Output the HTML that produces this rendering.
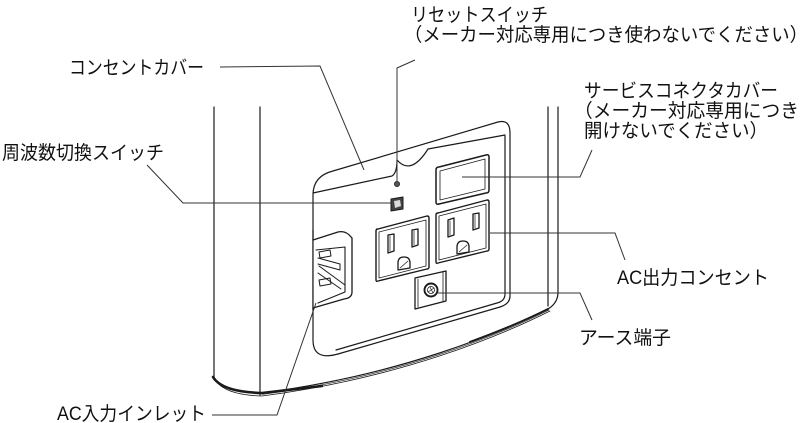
<!DOCTYPE html>
<html><head><meta charset="utf-8"><style>
html,body{margin:0;padding:0;background:#fff;}
svg{display:block;}
text{font-family:"Liberation Sans","Noto Sans CJK JP",sans-serif;font-size:19px;fill:#111;}
</style></head><body>
<svg width="800" height="423" viewBox="0 0 800 423" xmlns="http://www.w3.org/2000/svg">
<g fill="none" stroke="#1a1a1a" stroke-width="1.2" stroke-linejoin="round" stroke-linecap="round">
<!-- body vertical lines -->
<line x1="214" y1="107" x2="214" y2="378"/>
<line x1="260" y1="107" x2="260" y2="395"/>
<line x1="548" y1="107" x2="548" y2="306"/>
<path d="M558,107 L558,292 Q558,303 548,309"/>
<!-- bottom edge -->
<path d="M213,377 Q222,392 262,393 C400,375 500,333 548,309"/>
<path d="M216,381 Q226,395 262,396 C400,378 500,336 550,311" stroke-width="0.8"/>
<path d="M262,394.5 C400,376.5 500,334.5 549,310" stroke-width="0.6"/>
<path d="M213,377 Q222,392 262,393 L322,386" stroke-width="2.6"/>
<path d="M470,342 C500,331 530,318 548,309" stroke-width="2"/>
<!-- panel outer -->
<path d="M313,340 L313,195 Q313,176 333,171 L498,122 Q510,119 510,133 L510,296 Q510,304 500,307 L338,354 Q313,361 313,340 Z" fill="#fff"/>
<!-- panel inner right/bottom double line -->
<path d="M505,136 L505,294 Q505,301 497,303 L336,350"/>
<!-- cover lower edge with notch -->
<path d="M313,193 L392,176 Q397,173 397,160"/>
<path d="M397,160 Q411,176 428,149"/>
<path d="M428,149 L505,135"/>
<!-- reset hole -->
<circle cx="397" cy="184" r="2.6" fill="#555" stroke="#222" stroke-width="0.8"/>
<!-- frequency switch -->
<path d="M391,199 L403,197 L403,209 L391,211 Z" fill="#444" stroke-width="1"/>
<path d="M394,201 L400,200 L401,206 L395,208 Z" fill="#ddd" stroke="none"/>
<!-- service connector cover -->
<path d="M436,170 Q436,167 439,167 L486,155 Q489,154 489,157 L489,190 Q489,193 486,193 L439,204 Q436,205 436,202 Z" stroke-width="1.5"/>
<path d="M440,171 L485,159 L485,189 L440,200 Z" stroke-width="0.8"/>
<!-- left outlet -->
<path d="M376,231 Q376,229 378,229 L427,216 Q429,216 429,218 L429,267 Q429,269 427,269 L378,281 Q376,282 376,280 Z" stroke-width="1.4"/>
<path d="M379,232 L426,220 L426,266 L379,278 Z" stroke-width="0.8"/>
<!-- right outlet -->
<path d="M436,215 Q436,213 438,213 L487,200 Q489,200 489,202 L489,249 Q489,251 487,251 L438,263 Q436,264 436,262 Z" stroke-width="1.4"/>
<path d="M439,216 L486,204 L486,248 L439,260 Z" stroke-width="0.8"/>
<!-- slots left -->
<path d="M388,235 L394,234 L394,251 L388,253 Z" stroke-width="1.3"/>
<path d="M390,236 L390,251" stroke-width="0.7"/>
<path d="M412,230 L418,229 L418,245 L412,247 Z" stroke-width="1.3"/>
<path d="M414,231 L414,245" stroke-width="0.7"/>
<!-- ground left -->
<path d="M398,270 L398,263 Q398,257 404,257 Q410,257 410,263 L410,268 Z" stroke-width="1.3"/>
<path d="M400,268 L408,261" stroke-width="0.7"/>
<!-- slots right -->
<path d="M448,220 L454,218 L454,235 L448,237 Z" stroke-width="1.3"/>
<path d="M450,221 L450,235" stroke-width="0.7"/>
<path d="M473,214 L479,213 L479,228 L473,230 Z" stroke-width="1.3"/>
<path d="M475,215 L475,228" stroke-width="0.7"/>
<!-- ground right -->
<path d="M457,254 L457,247 Q457,241 463,241 Q469,241 469,247 L469,252 Z" stroke-width="1.3"/>
<path d="M459,252 L467,245" stroke-width="0.7"/>
<!-- earth terminal -->
<path d="M415,278 L446,271 L446,301 L415,309 Z" stroke-width="1.3"/>
<path d="M418,279 L418,307" stroke-width="0.8"/>
<path d="M443,272 L443,302" stroke-width="0.8"/>
<circle cx="431" cy="290" r="6.5" stroke-width="1.9"/>
<circle cx="431" cy="290" r="3.5" stroke-width="0.8"/>
<path d="M428,292 L434,288 M430,287 L433,293" stroke-width="0.7"/>
<!-- AC inlet -->
<path d="M313,240 L338,232 Q346,230 352,238 L352,292 Q352,298 344,299 L313,308" fill="#fff" stroke-width="1.3"/>
<line x1="313" y1="230" x2="313" y2="310"/>
<path d="M316,250 L345,247 L345,292 L318,303" stroke-width="1.1"/>
<path d="M319,252 L330,250 L331,256 L320,258 Z" stroke-width="1"/>
<path d="M318,258 L340,264 L340,270 L318,264" stroke-width="1"/>
<path d="M319,266 L345,285" stroke-width="1"/>
<path d="M318,273 L341,289" stroke-width="1"/>
<path d="M319,280 L330,278 L331,284 L320,286 Z" stroke-width="1"/>
</g>
<!-- leader lines -->
<g fill="none" stroke="#333" stroke-width="1">
<path d="M220,67 L320,66 L364,170"/>
<path d="M147,165 L183,203 L392,203"/>
<path d="M415,60 L397,68 L397,181"/>
<path d="M592,150 L580,177 L462,177"/>
<path d="M490,233 L615,233 L625,260"/>
<path d="M438,293 L580,293 L592,320"/>
<path d="M212,415 L277,415 L316,303"/>
</g>
<!-- labels -->
<text x="411" y="21" textLength="137" lengthAdjust="spacingAndGlyphs">リセットスイッチ</text>
<text x="404" y="41" textLength="404" lengthAdjust="spacingAndGlyphs">（メーカー対応専用につき使わないでください）</text>
<text x="584" y="97" textLength="194" lengthAdjust="spacingAndGlyphs">サービスコネクタカバー</text>
<text x="574" y="117" textLength="225" lengthAdjust="spacingAndGlyphs">（メーカー対応専用につき</text>
<text x="584" y="137" textLength="184" lengthAdjust="spacingAndGlyphs">開けないでください）</text>
<text x="69" y="74" textLength="135" lengthAdjust="spacingAndGlyphs">コンセントカバー</text>
<text x="2" y="159" textLength="162" lengthAdjust="spacingAndGlyphs">周波数切換スイッチ</text>
<text x="617" y="284" textLength="152" lengthAdjust="spacingAndGlyphs">AC出力コンセント</text>
<text x="579" y="344" textLength="92" lengthAdjust="spacingAndGlyphs">アース端子</text>
<text x="57" y="420" textLength="149" lengthAdjust="spacingAndGlyphs">AC入力インレット</text>
</svg>
</body></html>
